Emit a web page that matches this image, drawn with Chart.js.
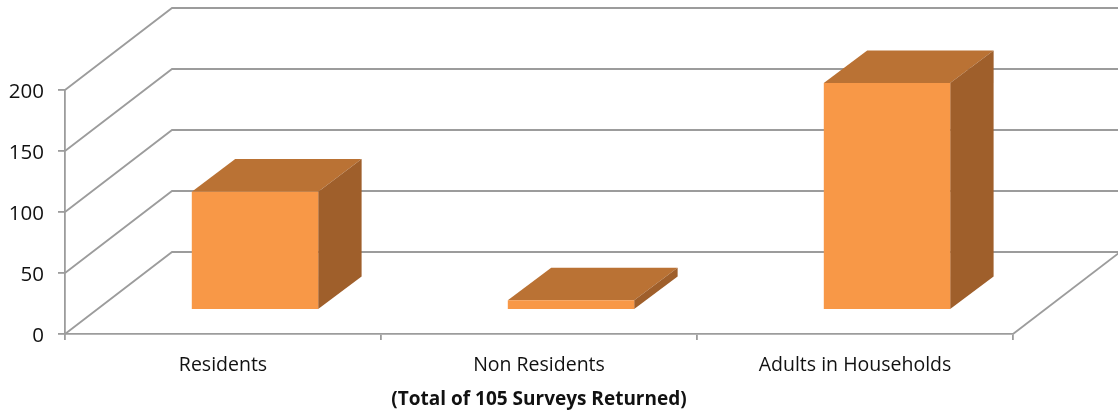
<!DOCTYPE html>
<html>
<head>
<meta charset="utf-8">
<script src="https://cdn.jsdelivr.net/npm/chart.js@4"></script>
<style>
  html, body { margin: 0; padding: 0; background: #fff; }
  #wrap { width: 1118px; height: 414px; }
</style>
</head>
<body>
<div id="wrap"><canvas id="chart" width="1118" height="414"></canvas></div>
<script>
const categories = ["Residents", "Non Residents", "Adults in Households"];
const surveyValues = [97, 8, 186];
const yTicks = [0, 50, 100, 150, 200];
const xTitle = "(Total of 105 Surveys Returned)";

const lineColor = "#9C9C9C";
const frontColor = "#F89847";
const topColor = "#BA7234";
const sideColor = "#9F5F2B";

// 3D look: how far the back wall and the bars are pushed back
const wallDx = 107, wallDy = -82;
const barDx = 32, barDy = -24;
const depthDx = 43.4, depthDy = -32.6;

function fillPoly(ctx, pts, color) {
  ctx.beginPath();
  pts.forEach((p, i) => i ? ctx.lineTo(p[0], p[1]) : ctx.moveTo(p[0], p[1]));
  ctx.closePath();
  ctx.fillStyle = color;
  ctx.fill();
}

const box3d = {
  id: "box3d",
  beforeDatasetsDraw(chart) {
    const ctx = chart.ctx;
    const area = chart.chartArea;
    const y = chart.scales.y;

    // back wall grid lines with their slope to the front axis
    ctx.save();
    ctx.strokeStyle = lineColor;
    ctx.lineWidth = 1.8;
    yTicks.forEach(t => {
      const py = y.getPixelForValue(t);
      ctx.beginPath();
      ctx.moveTo(area.left, py);
      ctx.lineTo(area.left + wallDx, py + wallDy);
      ctx.lineTo(area.right + wallDx, py + wallDy);
      ctx.stroke();
    });
    // right edge of the floor
    const y0 = y.getPixelForValue(0);
    ctx.beginPath();
    ctx.moveTo(area.right, y0);
    ctx.lineTo(area.right + wallDx, y0 + wallDy);
    ctx.stroke();

    // top and side of each bar
    chart.getDatasetMeta(0).data.forEach(bar => {
      const l = bar.x - bar.width / 2 + barDx;
      const r = bar.x + bar.width / 2 + barDx;
      const t = bar.y + barDy;
      const b = bar.base + barDy;
      fillPoly(ctx, [[l, t], [r, t], [r + depthDx, t + depthDy], [l + depthDx, t + depthDy]], topColor);
      fillPoly(ctx, [[r, t], [r + depthDx, t + depthDy], [r + depthDx, b + depthDy], [r, b]], sideColor);
    });

    // the front faces are drawn by Chart.js, just moved into the box
    ctx.translate(barDx, barDy);
  },
  afterDatasetsDraw(chart) {
    chart.ctx.restore();
  }
};

new Chart(document.getElementById("chart"), {
  type: "bar",
  data: {
    labels: categories,
    datasets: [{
      data: surveyValues,
      backgroundColor: frontColor,
      borderWidth: 0,
      barPercentage: 0.4,
      categoryPercentage: 1,
      clip: false
    }]
  },
  plugins: [box3d],
  options: {
    responsive: false,
    animation: false,
    layout: { padding: { top: 90, right: 105, left: 0, bottom: 0 } },
    plugins: { legend: { display: false }, tooltip: { enabled: false } },
    scales: {
      x: {
        afterFit(scale) { scale.height = 80; },
        grid: { offset: true, drawOnChartArea: false, tickLength: 6, color: lineColor, lineWidth: 1.8 },
        border: { color: lineColor, width: 1.8 },
        ticks: {
          color: "#111111",
          padding: 14,
          maxRotation: 0,
          font: { family: "'Open Sans'", size: 19.5 }
        },
        title: {
          display: true,
          text: xTitle,
          color: "#111111",
          padding: { top: 4, bottom: 3 },
          font: { family: "'Open Sans'", size: 19, weight: "bold" }
        }
      },
      y: {
        min: 0,
        max: 200,
        afterFit(scale) { scale.width = 65; },
        afterBuildTicks(scale) { scale.ticks = yTicks.map(v => ({ value: v })); },
        grid: { drawOnChartArea: false, tickLength: 7, color: lineColor, lineWidth: 1.8 },
        border: { color: lineColor, width: 1.8 },
        ticks: {
          color: "#111111",
          padding: 14,
          // empty first line nudges the number down a little
          callback: v => ["", String(v)],
          font: { family: "'Open Sans'", size: 20.5, lineHeight: 0.2 }
        }
      }
    }
  }
});
</script>
</body>
</html>
